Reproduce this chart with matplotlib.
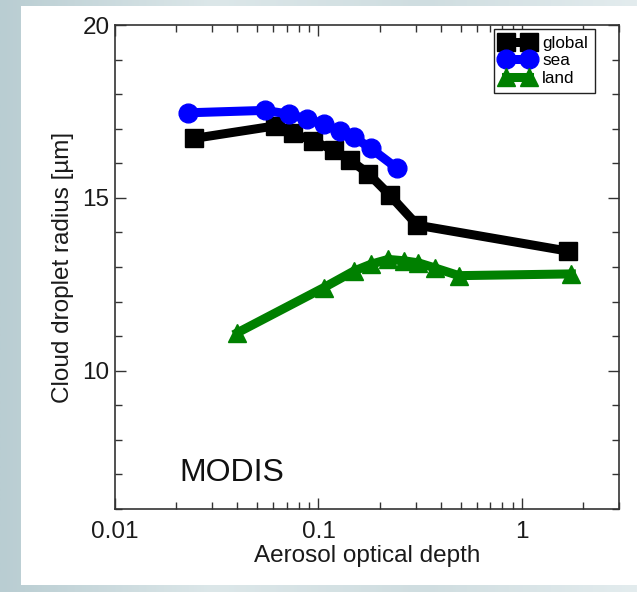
import numpy as np
import matplotlib
matplotlib.use("Agg")
import matplotlib.pyplot as plt
from matplotlib.patches import Rectangle
from matplotlib.colors import LinearSegmentedColormap
from matplotlib.ticker import FixedLocator, LogLocator, NullFormatter, FixedFormatter

# ---- data ----
global_x = [0.0245, 0.061, 0.0748, 0.094, 0.1186, 0.1426, 0.176, 0.224, 0.306, 1.68]
global_y = [16.72, 17.08, 16.87, 16.65, 16.38, 16.10, 15.70, 15.08, 14.21, 13.46]

sea_x = [0.0228, 0.0545, 0.072, 0.088, 0.106, 0.127, 0.149, 0.181, 0.244]
sea_y = [17.46, 17.53, 17.42, 17.27, 17.14, 16.92, 16.76, 16.43, 15.85]

land_x = [0.040, 0.106, 0.149, 0.181, 0.220, 0.263, 0.31, 0.375, 0.49, 1.75]
land_y = [11.10, 12.40, 12.88, 13.08, 13.22, 13.18, 13.12, 12.97, 12.75, 12.80]

series_labels = ["global", "sea", "land"]
x_ticks = [0.01, 0.1, 1]
x_tick_labels = ["0.01", "0.1", "1"]
y_ticks = [10, 15, 20]
y_tick_labels = ["10", "15", "20"]

W, H = 637, 592
fig = plt.figure(figsize=(W / 100, H / 100), dpi=100)
plt.rcParams['font.family'] = ['Liberation Sans', 'DejaVu Sans']

# background gradient
bg = fig.add_axes([0, 0, 1, 1], zorder=-10)
grad = np.linspace(0, 1, 256)[None, :]
cmap = LinearSegmentedColormap.from_list("bg", ["#b9cdd2", "#dce7e9", "#cfdde0", "#e3ecee"])
bg.imshow(grad, aspect="auto", cmap=cmap, extent=[0, 1, 0, 1])
bg.set_xlim(0, 1); bg.set_ylim(0, 1)
bg.axis("off")
bg.add_patch(Rectangle((21 / W, 1 - 585 / H), 1 - 21 / W, (585 - 6) / H,
                       facecolor="white", edgecolor="none"))

# axes: left 115, right 619, top 25, bottom 509 (pixels)
L, R, T, B = 115, 619, 25, 509
ax = fig.add_axes([L / W, 1 - B / H, (R - L) / W, (B - T) / H])
ax.set_facecolor("white")

lw = 6.5
ms = 13.5
ax.plot(global_x, global_y, color="black", lw=lw, marker="s", ms=ms, label=series_labels[0])
ax.plot(sea_x, sea_y, color="#0000ff", lw=lw, marker="o", ms=ms, label=series_labels[1])
ax.plot(land_x, land_y, color="#008000", lw=lw, marker="^", ms=ms, label=series_labels[2])

ax.set_xscale("log")
ax.set_xlim(0.01, 3.0)
ax.set_ylim(6, 20)

ax.xaxis.set_major_locator(FixedLocator(x_ticks))
ax.xaxis.set_major_formatter(FixedFormatter(x_tick_labels))
ax.xaxis.set_minor_locator(LogLocator(base=10, subs=np.arange(2, 10)))
ax.xaxis.set_minor_formatter(NullFormatter())
ax.yaxis.set_major_locator(FixedLocator(y_ticks))
ax.yaxis.set_major_formatter(FixedFormatter(y_tick_labels))
ax.yaxis.set_minor_locator(FixedLocator(np.arange(6, 21, 1)))

ax.tick_params(which="both", direction="in", top=True, right=True, color="#333333", width=1.0,
               labelsize=17.5, labelcolor="#1a1a1a")
ax.tick_params(which="major", length=8)
ax.tick_params(which="minor", length=5)
ax.tick_params(axis="x", which="major", pad=9)
ax.tick_params(axis="y", which="major", pad=4)
for s in ax.spines.values():
    s.set_color("#333333")
    s.set_linewidth(1.2)

ax.set_xlabel("Aerosol optical depth", fontsize=17.5, color="#1a1a1a", labelpad=1)
ax.set_ylabel("Cloud droplet radius [\u00b5m]", fontsize=17.5, color="#1a1a1a", labelpad=6)

ax.text((179 - L) / (R - L), (B - 481) / (B - T), "MODIS", transform=ax.transAxes,
        fontsize=23, ha="left", va="baseline", color="#111111")

leg = ax.legend(loc="upper right", bbox_to_anchor=((595 - L) / (R - L), 1 - (29 - T) / (B - T)),
                borderaxespad=0, fontsize=12.3, frameon=True, fancybox=False,
                edgecolor="#222222", framealpha=1, handlelength=2.0, handletextpad=0.45,
                labelspacing=0.15, borderpad=0.4, numpoints=2, markerscale=1.0)
leg.get_frame().set_linewidth(1.0)

fig.savefig("out.png", dpi=100)
